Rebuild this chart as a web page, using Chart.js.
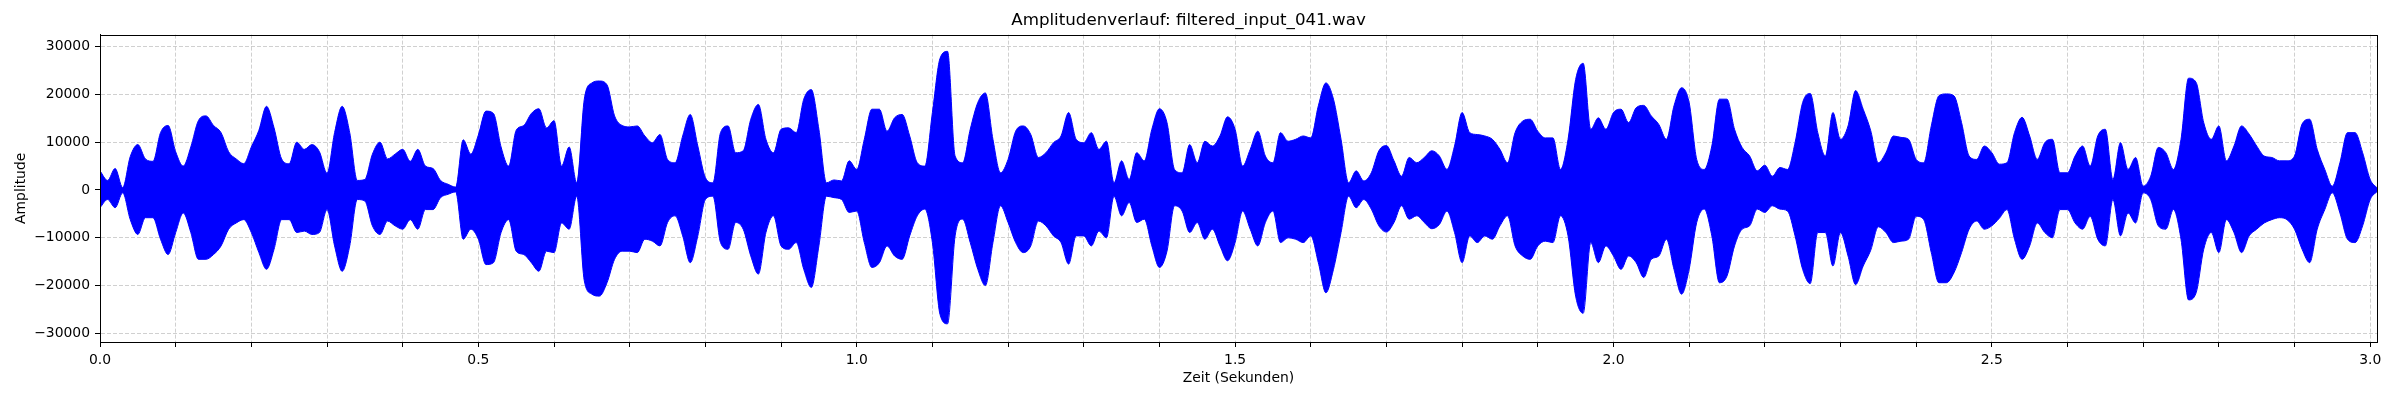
<!DOCTYPE html>
<html>
<head>
<meta charset="utf-8">
<script src="https://cdn.jsdelivr.net/npm/chart.js@4.4.1/dist/chart.umd.min.js"></script>
<style>
  html, body { margin: 0; padding: 0; background: #fff; }
  canvas { display: block; }
</style>
</head>
<body>
<canvas id="wave" width="2400" height="400"></canvas>
<script>
const sampleStep = 0.01;

const upperEnvelope = [
  4000, 2000, 4500, 500, 7000, 9500, 6500, 6000, 12000, 13500,
  8000, 5000, 9000, 14500, 15500, 13500, 12000, 8000, 6500, 5500,
  9000, 12500, 17500, 13000, 6500, 5500, 10000, 8500, 9500, 8000,
  3500, 12000, 17500, 12000, 2000, 2200, 7500, 10000, 6500, 7500,
  8500, 6000, 8500, 5000, 4500, 2000, 1200, 600, 10500, 7500,
  11500, 16500, 16000, 9000, 5000, 12500, 13500, 16000, 17000, 13000,
  14500, 5000, 9000, 1500, 19000, 22400, 22800, 22000, 15500, 13500,
  13200, 13400, 11300, 9900, 11600, 6400, 5700, 11300, 15800, 9200,
  2600, 1500, 12000, 13400, 7800, 8200, 14800, 17900, 10600, 7800,
  12700, 13000, 12000, 19000, 21000, 12700, 1500, 2100, 1900, 6100,
  4300, 10600, 16900, 16900, 12300, 15100, 15800, 11300, 5700, 5000,
  16200, 27500, 29000, 7100, 5700, 12700, 18300, 20300, 10600, 3600,
  6400, 12300, 13400, 11600, 6800, 7800, 9900, 11300, 16200, 10600,
  9900, 12000, 8500, 10200, 1500, 6100, 2200, 7800, 6100, 12700,
  17000, 14100, 4300, 3600, 9500, 5700, 10200, 9200, 11300, 15300,
  12700, 5000, 8500, 12300, 7100, 5700, 12000, 10200, 10600, 11300,
  10900, 17600, 22400, 19000, 10600, 1500, 4000, 1900, 3600, 8200,
  9300, 6100, 2900, 6800, 5700, 6800, 8200, 7100, 4300, 9200,
  16200, 12000, 11600, 11300, 10600, 8500, 5700, 12000, 14400, 14800,
  12300, 10900, 10900, 4300, 10600, 23100, 26500, 12700, 15100, 12700,
  16200, 16900, 14100, 17200, 17700, 15500, 13700, 10600, 17600, 21400,
  18300, 6400, 4300, 9200, 19000, 19000, 12700, 8900, 7100, 4000,
  5200, 2900, 4700, 4300, 9900, 18300, 20200, 12000, 7100, 16200,
  10600, 13400, 20800, 16900, 12400, 5700, 7800, 11300, 11000, 10600,
  6400, 5700, 13400, 19700, 20100, 19700, 14100, 7100, 6400, 9200,
  7800, 5400, 5700, 12000, 15200, 11300, 6400, 9900, 10600, 3600,
  3600, 7100, 9200, 5000, 11300, 12700, 2200, 9900, 4300, 6800,
  800, 2900, 8900, 7800, 4300, 10600, 23400, 22500, 14100, 10600,
  13400, 6100, 9200, 13400, 11700, 9200, 7100, 6800, 6100, 6100,
  7100, 13800, 14800, 8500, 4300, 800, 5700, 12000, 12000, 7800,
  2200, 300
];

const lowerEnvelope = [
  -3700, -2000, -3700, -600, -6200, -9300, -5800, -5800, -10300, -13500,
  -8900, -4800, -8900, -14500, -14500, -13500, -11700, -8200, -6900, -6200,
  -8900, -13100, -16600, -12400, -6200, -6200, -8900, -8600, -9300, -8900,
  -4100, -11700, -17000, -11700, -2000, -2300, -7500, -9300, -6500, -7500,
  -8200, -6200, -8200, -4100, -4100, -1600, -900, -400, -10300, -8200,
  -10300, -15600, -15200, -8900, -6200, -12800, -13500, -15200, -17000, -12800,
  -13100, -6900, -8200, -1300, -19000, -21800, -22200, -19400, -14500, -12800,
  -12800, -13100, -10300, -10700, -11700, -6800, -5400, -9600, -15200, -9600,
  -2000, -1300, -11000, -12400, -6800, -8200, -13800, -17600, -8900, -5400,
  -11700, -12400, -11000, -16600, -20400, -11700, -1300, -1600, -2000, -4700,
  -4400, -11000, -16200, -15200, -11700, -13800, -14500, -9600, -5400, -4000,
  -11000, -26000, -28000, -9600, -6100, -11000, -16600, -20000, -11000, -3300,
  -6800, -11000, -13100, -11700, -6500, -7500, -9600, -11000, -15500, -9600,
  -9600, -11700, -8600, -10000, -1300, -5400, -2600, -6800, -6100, -11700,
  -16200, -12800, -3300, -4400, -8900, -6800, -10300, -8200, -11700, -14800,
  -11000, -4400, -8200, -11700, -6800, -4400, -11000, -10000, -10300, -11000,
  -9600, -15200, -21500, -16600, -8900, -1300, -3700, -2000, -4000, -7500,
  -8800, -6800, -3300, -6100, -5400, -6800, -8100, -7200, -4400, -8900,
  -15200, -9600, -11000, -9600, -10300, -7500, -5400, -11700, -13800, -14500,
  -11700, -10700, -11000, -5400, -9600, -22200, -25800, -11000, -15200, -11700,
  -13800, -16600, -13800, -15200, -18300, -14500, -13800, -10300, -16600, -21800,
  -16600, -6800, -4000, -9600, -19400, -18000, -11700, -8200, -7500, -4000,
  -4700, -3300, -4000, -4400, -9600, -16600, -19600, -8900, -8900, -15900,
  -8900, -13800, -19800, -15900, -12600, -7700, -8900, -11000, -10700, -10300,
  -5500, -6200, -13100, -19400, -19400, -17300, -13100, -8200, -6500, -8200,
  -7500, -5900, -4100, -10300, -14500, -11700, -6900, -8900, -10000, -4100,
  -4100, -6900, -8200, -5500, -10300, -11700, -2000, -9600, -4800, -6900,
  -600, -2000, -7500, -8200, -4100, -10300, -23000, -21500, -12400, -8900,
  -13100, -6200, -8900, -13100, -9600, -8200, -6900, -6200, -5800, -6200,
  -8200, -12400, -15200, -8200, -4100, -600, -4800, -10300, -11000, -7500,
  -2000, -200
];

const timeRange = [0, 3.009];
const ampRange = [-31800, 32500];
const ampTicks = [-30000, -20000, -10000, 0, 10000, 20000, 30000];
const timeLabels = ['0.0', '0.5', '1.0', '1.5', '2.0', '2.5', '3.0'];
// gridlines every 0.1 s, labelled every 0.5 s
const timeGridStep = 0.1;

const FONT = 'DejaVu Sans';
const GRID_COLOR = 'rgba(176, 176, 176, 0.6)';

function toPoints(values) {
  return values.map((v, i) => ({ x: +(i * sampleStep).toFixed(2), y: v }));
}

// matplotlib draws a box round the axes
const frame = {
  id: 'frame',
  afterDraw(chart) {
    const { ctx, chartArea: a } = chart;
    ctx.save();
    ctx.strokeStyle = '#000';
    ctx.lineWidth = 1;
    ctx.strokeRect(Math.round(a.left) + 0.5, Math.round(a.top) + 0.5,
      Math.round(a.right - a.left), Math.round(a.bottom - a.top));
    ctx.restore();
  }
};

new Chart(document.getElementById('wave'), {
  type: 'line',
  data: {
    datasets: [{
      data: toPoints(upperEnvelope),
      borderColor: '#0000ff',
      backgroundColor: '#0000ff',
      borderWidth: 1,
      pointRadius: 0,
      cubicInterpolationMode: 'monotone',
      fill: '+1'
    }, {
      data: toPoints(lowerEnvelope),
      borderColor: '#0000ff',
      borderWidth: 1,
      pointRadius: 0,
      cubicInterpolationMode: 'monotone',
      fill: false
    }]
  },
  options: {
    responsive: false,
    animation: false,
    devicePixelRatio: 1,
    layout: { padding: { left: 0, right: 23, top: 0, bottom: 0 } },
    plugins: {
      legend: { display: false },
      tooltip: { enabled: false },
      title: {
        display: true,
        text: 'Amplitudenverlauf: filtered_input_041.wav',
        color: '#000',
        font: { family: FONT, size: 16.7, weight: 'normal' },
        padding: { top: 11, bottom: 3.6 }
      }
    },
    scales: {
      x: {
        type: 'linear',
        min: timeRange[0],
        max: timeRange[1],
        afterFit(scale) { scale.height = 58; },
        afterBuildTicks(scale) {
          const ticks = [];
          for (let v = timeRange[0]; v <= 3.0 + 1e-9; v += timeGridStep) {
            ticks.push({ value: +v.toFixed(1) });
          }
          scale.ticks = ticks;
        },
        ticks: {
          autoSkip: false,
          maxRotation: 0,
          padding: 5,
          color: '#000',
          font: { family: FONT, size: 13.9 },
          callback(v) {
            const s = v.toFixed(1);
            return timeLabels.includes(s) ? s : '';
          }
        },
        grid: { color: GRID_COLOR, tickColor: '#000', tickLength: 5, lineWidth: 1 },
        border: { display: true, color: '#000', dash: [4, 2] },
        title: {
          display: true,
          text: 'Zeit (Sekunden)',
          color: '#000',
          font: { family: FONT, size: 13.9 },
          padding: { top: 4, bottom: 13.6 }
        }
      },
      y: {
        min: ampRange[0],
        max: ampRange[1],
        afterFit(scale) { scale.width = 100; },
        afterBuildTicks(scale) {
          scale.ticks = ampTicks.map(v => ({ value: v }));
        },
        ticks: {
          padding: 5,
          color: '#000',
          font: { family: FONT, size: 13.9 },
          callback(v) { return String(v).replace('-', '\u2212'); }
        },
        grid: { color: GRID_COLOR, tickColor: '#000', tickLength: 5, lineWidth: 1 },
        border: { display: true, color: '#000', dash: [4, 2] },
        title: {
          display: true,
          text: 'Amplitude',
          color: '#000',
          font: { family: FONT, size: 13.9 },
          padding: { top: 13, bottom: 13 }
        }
      }
    }
  },
  plugins: [frame]
});
</script>
</body>
</html>
